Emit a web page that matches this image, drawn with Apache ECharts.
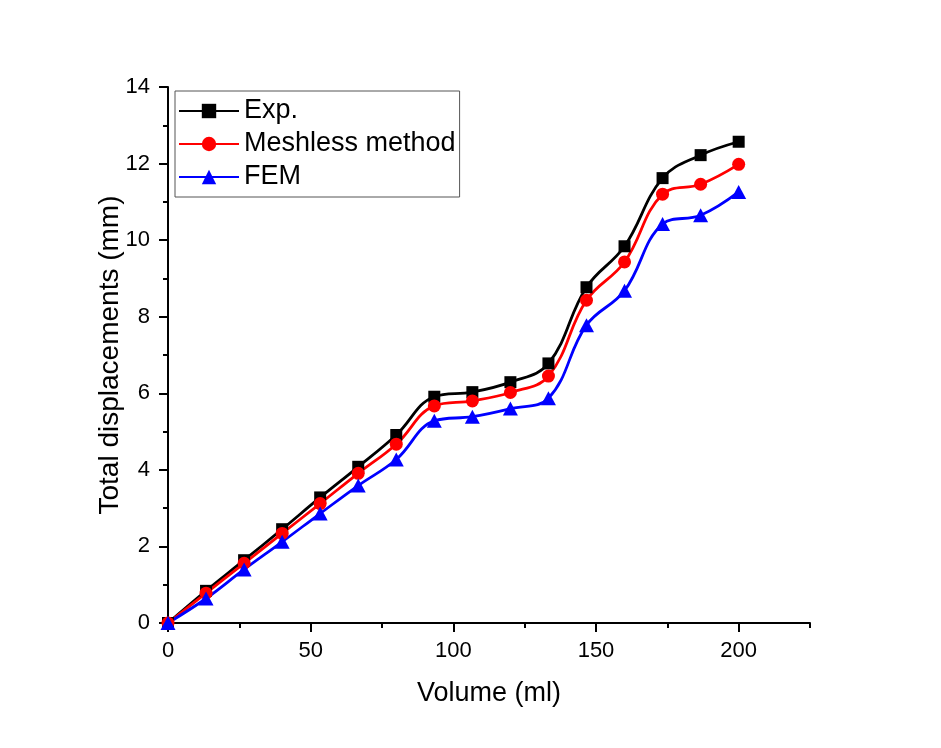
<!DOCTYPE html>
<html>
<head>
<meta charset="utf-8">
<script src="https://cdn.jsdelivr.net/npm/echarts@6/dist/echarts.min.js"></script>
<style>
html,body{margin:0;padding:0;background:#fff;}
#chart{width:941px;height:748px;}
</style>
</head>
<body>
<div id="chart"></div>
<script>
var volume = [0, 13.33, 26.67, 40, 53.33, 66.67, 80, 93.33, 106.67, 120, 133.33, 146.67, 160, 173.33, 186.67, 200];
var expValues = [0, 0.84, 1.64, 2.45, 3.28, 4.08, 4.91, 5.91, 6.03, 6.29, 6.78, 8.77, 9.84, 11.62, 12.22, 12.57];
var meshlessValues = [0, 0.78, 1.56, 2.34, 3.12, 3.91, 4.67, 5.67, 5.80, 6.02, 6.45, 8.43, 9.43, 11.20, 11.46, 11.98];
var femValues = [0, 0.64, 1.40, 2.12, 2.86, 3.59, 4.27, 5.28, 5.39, 5.60, 5.87, 7.78, 8.68, 10.42, 10.65, 11.26];
var xMajorTicks = [0, 50, 100, 150, 200];
var seriesNames = ['Exp.', 'Meshless method', 'FEM'];

function pairs(xs, ys) {
  return xs.map(function (x, i) { return [x, ys[i]]; });
}

var FONT = 'Liberation Sans, Arial, sans-serif';
var chart = echarts.init(document.getElementById('chart'), null, {renderer: 'canvas'});

var option = {
  backgroundColor: '#fff',
  animation: false,
  grid: {left: 168, right: 131, top: 87, bottom: 125, containLabel: false},
  legend: {
    orient: 'vertical',
    left: 175,
    top: 91,
    padding: [5, 4, 5, 3],
    itemWidth: 60,
    itemHeight: 18,
    itemGap: 3,
    itemTextGap: 10,
    borderColor: '#555',
    borderWidth: 1,
    backgroundColor: '#fff',
    textStyle: {fontFamily: FONT, fontSize: 27, color: '#000', lineHeight: 30},
    data: seriesNames
  },
  xAxis: [
    {
      type: 'value',
      min: 0,
      max: 225,
      interval: 25,
      name: 'Volume (ml)',
      nameLocation: 'middle',
      nameGap: 57,
      nameMoveOverlap: false,
      nameTextStyle: {fontFamily: FONT, fontSize: 27, color: '#000'},
      axisLine: {show: true, onZero: false, lineStyle: {color: '#000', width: 2}},
      axisTick: {show: true, inside: false, length: 5, lineStyle: {color: '#000', width: 2}},
      axisLabel: {show: true, customValues: xMajorTicks, margin: 17, fontFamily: FONT, fontSize: 22, color: '#000'},
      splitLine: {show: false}
    },
    {
      type: 'value',
      min: 0,
      max: 225,
      position: 'bottom',
      axisLine: {show: false},
      axisTick: {show: true, inside: false, customValues: xMajorTicks, length: 9, lineStyle: {color: '#000', width: 2}},
      axisLabel: {show: false},
      splitLine: {show: false}
    }
  ],
  yAxis: {
    type: 'value',
    min: 0,
    max: 14,
    interval: 2,
    name: 'Total displacements (mm)',
    nameLocation: 'middle',
    nameGap: 44,
    nameMoveOverlap: false,
    nameTextStyle: {fontFamily: FONT, fontSize: 28, color: '#000'},
    axisLine: {show: true, onZero: false, lineStyle: {color: '#000', width: 2}},
    axisTick: {show: true, inside: false, length: 9, lineStyle: {color: '#000', width: 2}},
    minorTick: {show: true, splitNumber: 2, length: 5, lineStyle: {color: '#000', width: 2}},
    axisLabel: {margin: 18, fontFamily: FONT, fontSize: 22, color: '#000'},
    splitLine: {show: false},
    minorSplitLine: {show: false}
  },
  series: [
    {
      name: seriesNames[0],
      type: 'line',
      xAxisIndex: 0,
      smooth: 0.4,
      data: pairs(volume, expValues),
      symbol: 'rect',
      symbolSize: 12,
      showAllSymbol: true,
      lineStyle: {color: '#000', width: 2.8},
      itemStyle: {color: '#000'}
    },
    {
      name: seriesNames[1],
      type: 'line',
      xAxisIndex: 0,
      smooth: 0.4,
      data: pairs(volume, meshlessValues),
      symbol: 'circle',
      symbolSize: 13,
      showAllSymbol: true,
      lineStyle: {color: '#ff0000', width: 2.8},
      itemStyle: {color: '#ff0000'}
    },
    {
      name: seriesNames[2],
      type: 'line',
      xAxisIndex: 0,
      smooth: 0.4,
      data: pairs(volume, femValues),
      symbol: 'triangle',
      symbolSize: [15, 14],
      showAllSymbol: true,
      lineStyle: {color: '#0000ff', width: 2.8},
      itemStyle: {color: '#0000ff'}
    }
  ]
};
chart.setOption(option);
</script>
</body>
</html>
